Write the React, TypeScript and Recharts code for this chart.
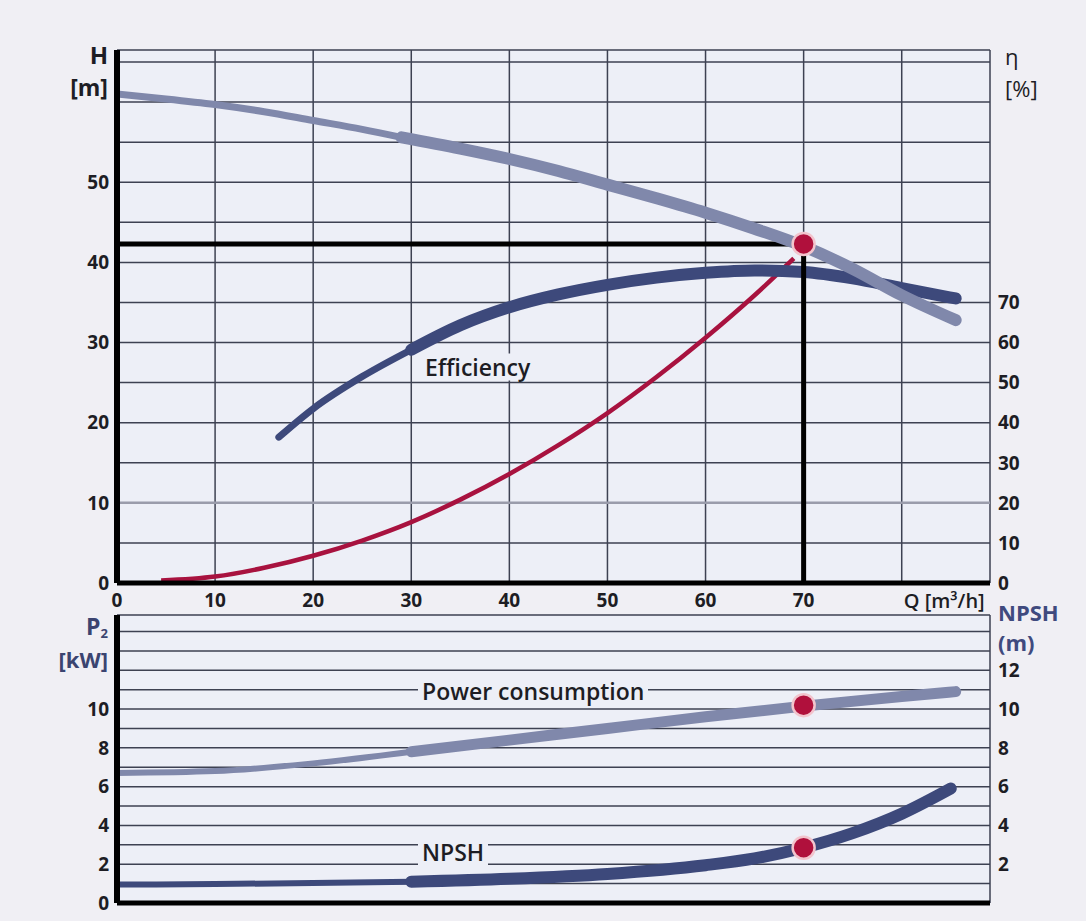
import React from "react"
import { ComposedChart, Line, XAxis, YAxis, CartesianGrid, ReferenceDot, ReferenceLine } from "recharts"

// flow rate Q [m³/h]
const qTicks = [0, 10, 20, 30, 40, 50, 60, 70, 80]

// head H [m]: grid every 5, labels every 10
const headTicks = [0, 5, 10, 15, 20, 25, 30, 35, 40, 45, 50, 55, 60, 65]
const headLabels = [0, 10, 20, 30, 40, 50]
const etaTicks = [0, 10, 20, 30, 40, 50, 60, 70]

// P2 / NPSH: grid every 1
const powerTicks = [0, 1, 2, 3, 4, 5, 6, 7, 8, 9, 10, 11, 12, 13, 14]
const powerLabels = [0, 2, 4, 6, 8, 10]
const npshTicks = [2, 4, 6, 8, 10, 12]

const headThin = [
  { q: 0, h: 61.0 }, { q: 5, h: 60.4 }, { q: 10, h: 59.7 }, { q: 15, h: 58.8 },
  { q: 20, h: 57.7 }, { q: 25, h: 56.6 }, { q: 29, h: 55.6 },
]
const headThick = [
  { q: 29, h: 55.6 }, { q: 35, h: 54.2 }, { q: 40, h: 52.9 }, { q: 45, h: 51.4 },
  { q: 50, h: 49.7 }, { q: 55, h: 48.0 }, { q: 60, h: 46.2 }, { q: 65, h: 44.2 },
  { q: 70, h: 42.0 }, { q: 75, h: 39.2 }, { q: 80, h: 35.9 }, { q: 85.5, h: 32.8 },
]

// efficiency η [%]
const etaThin = [
  { q: 16.5, eta: 36.4 }, { q: 20, eta: 43.5 }, { q: 25, eta: 51.5 }, { q: 30, eta: 58.2 },
]
const etaThick = [
  { q: 30, eta: 58.2 }, { q: 35, eta: 64.3 }, { q: 40, eta: 68.8 }, { q: 45, eta: 72.0 },
  { q: 50, eta: 74.4 }, { q: 55, eta: 76.2 }, { q: 60, eta: 77.4 }, { q: 65, eta: 78.0 },
  { q: 70, eta: 77.6 }, { q: 75, eta: 76.0 }, { q: 80, eta: 73.6 }, { q: 85.5, eta: 71.0 },
]

// system curve
const systemCurve = [
  { q: 4.5, h: 0.3 }, { q: 10, h: 0.8 }, { q: 15, h: 1.9 }, { q: 20, h: 3.4 },
  { q: 25, h: 5.3 }, { q: 30, h: 7.6 }, { q: 35, h: 10.4 }, { q: 40, h: 13.6 },
  { q: 45, h: 17.2 }, { q: 50, h: 21.2 }, { q: 55, h: 25.7 }, { q: 60, h: 30.6 },
  { q: 65, h: 35.9 }, { q: 69, h: 40.5 },
]

// duty point
const dutyQ = 70
const dutyH = 42.3
const dutyLine = [{ q: 0, h: dutyH }, { q: dutyQ, h: dutyH }, { q: dutyQ, h: 0 }]
const dutyP2 = 10.2
const dutyNpsh = 2.85

// power consumption P2 [kW]
const powerThin = [
  { q: 0, p: 6.7 }, { q: 10, p: 6.8 }, { q: 20, p: 7.2 }, { q: 30, p: 7.8 },
]
const powerThick = [
  { q: 30, p: 7.8 }, { q: 40, p: 8.4 }, { q: 50, p: 9.0 }, { q: 60, p: 9.6 },
  { q: 70, p: 10.15 }, { q: 80, p: 10.65 }, { q: 85.5, p: 10.9 },
]

// NPSH [m]
const npshThin = [
  { q: 0, n: 0.95 }, { q: 10, n: 0.98 }, { q: 20, n: 1.03 }, { q: 30, n: 1.1 },
]
const npshThick = [
  { q: 30, n: 1.1 }, { q: 40, n: 1.25 }, { q: 50, n: 1.5 }, { q: 60, n: 1.95 },
  { q: 65, n: 2.3 }, { q: 70, n: 2.85 }, { q: 75, n: 3.6 }, { q: 80, n: 4.6 },
  { q: 85, n: 5.9 },
]

const FONT = "'Open Sans', sans-serif"
const TEXT = "#1d1d24"
const GRID = "#3d4152"
const PLOT_BG = "#edeff7"
const LIGHT = "#8088ab"
const DARK = "#3d497b"
const RED = "#a8123f"

const tickStyle = { fontSize: 19, fontWeight: 700, fill: TEXT, fontFamily: FONT }

function QTick(props: any) {
  const { x, y, payload } = props
  if (payload.value === 80) {
    return (
      <text x={x + 2} y={y} dy="0.71em" textAnchor="start" style={{ ...tickStyle, fontSize: 20, fontWeight: 600 }}>
        Q [m³/h]
      </text>
    )
  }
  return (
    <text x={x} y={y} dy="0.71em" textAnchor="middle" style={tickStyle}>
      {payload.value}
    </text>
  )
}

const dot = { r: 11, fill: "#b0103c", stroke: "#f2c4cd", strokeWidth: 2.5 }

const label = (extra: React.CSSProperties): React.CSSProperties => ({
  position: "absolute",
  transform: "translateY(-50%)",
  fontFamily: FONT,
  lineHeight: 1,
  whiteSpace: "nowrap",
  ...extra,
})

export default function App() {
  return (
    <div style={{ position: "absolute", left: 0, top: 0, width: 1086, height: 921, background: "#f0eff4", overflow: "hidden" }}>
      <div style={{ position: "absolute", left: 0, top: 0 }}>
        <ComposedChart width={1086} height={615} margin={{ top: 50, right: 36, bottom: 2, left: 57 }}>
          <CartesianGrid yAxisId="h" stroke={GRID} strokeWidth={1.5} fill={PLOT_BG} fillOpacity={1} />
          <XAxis
            dataKey="q"
            type="number"
            domain={[0, 89]}
            ticks={qTicks}
            allowDataOverflow
            height={30}
            tick={<QTick />}
            tickLine={false}
            tickMargin={5}
            axisLine={{ stroke: "#000", strokeWidth: 5 }}
          />
          <YAxis
            yAxisId="h"
            type="number"
            domain={[0, 66.5]}
            ticks={headTicks}
            allowDataOverflow
            width={60}
            tickFormatter={(v: number) => (headLabels.includes(v) ? String(v) : "")}
            tick={tickStyle}
            tickLine={false}
            axisLine={{ stroke: "#000", strokeWidth: 6 }}
          />
          <YAxis
            yAxisId="eta"
            orientation="right"
            type="number"
            domain={[0, 133]}
            ticks={etaTicks}
            allowDataOverflow
            width={60}
            tick={tickStyle}
            tickLine={false}
            axisLine={false}
          />
          <ReferenceLine yAxisId="h" y={10} stroke="#9a9cab" strokeWidth={2.5} />
          <Line yAxisId="h" data={systemCurve} dataKey="h" type="monotone" stroke={RED} strokeWidth={4.5} dot={false} isAnimationActive={false} />
          <Line yAxisId="eta" data={etaThin} dataKey="eta" type="monotone" stroke={DARK} strokeWidth={7} strokeLinecap="round" dot={false} isAnimationActive={false} />
          <Line yAxisId="eta" data={etaThick} dataKey="eta" type="monotone" stroke={DARK} strokeWidth={12} strokeLinecap="round" dot={false} isAnimationActive={false} />
          <Line yAxisId="h" data={dutyLine} dataKey="h" type="linear" stroke="#000" strokeWidth={5} dot={false} isAnimationActive={false} />
          <Line yAxisId="h" data={headThin} dataKey="h" type="monotone" stroke={LIGHT} strokeWidth={7} strokeLinecap="round" dot={false} isAnimationActive={false} />
          <Line yAxisId="h" data={headThick} dataKey="h" type="monotone" stroke={LIGHT} strokeWidth={12} strokeLinecap="round" dot={false} isAnimationActive={false} />
          <ReferenceDot yAxisId="h" x={dutyQ} y={dutyH} {...dot} />
        </ComposedChart>
      </div>

      <div style={{ position: "absolute", left: 0, top: 605 }}>
        <ComposedChart width={1086} height={316} margin={{ top: 10, right: 36, bottom: 16, left: 57 }}>
          <CartesianGrid yAxisId="p" stroke={GRID} strokeWidth={1.5} fill={PLOT_BG} fillOpacity={1} />
          <XAxis
            dataKey="q"
            type="number"
            domain={[0, 89]}
            ticks={qTicks}
            allowDataOverflow
            height={2}
            tick={false}
            tickLine={false}
            axisLine={{ stroke: "#000", strokeWidth: 5 }}
          />
          <YAxis
            yAxisId="p"
            type="number"
            domain={[0, 14.85]}
            ticks={powerTicks}
            allowDataOverflow
            width={60}
            tickFormatter={(v: number) => (powerLabels.includes(v) ? String(v) : "")}
            tick={tickStyle}
            tickLine={false}
            axisLine={{ stroke: "#000", strokeWidth: 6 }}
          />
          <YAxis
            yAxisId="n"
            orientation="right"
            type="number"
            domain={[0, 14.85]}
            ticks={npshTicks}
            allowDataOverflow
            width={60}
            tick={tickStyle}
            tickLine={false}
            axisLine={false}
          />
          <Line yAxisId="p" data={powerThin} dataKey="p" type="monotone" stroke={LIGHT} strokeWidth={6} strokeLinecap="round" dot={false} isAnimationActive={false} />
          <Line yAxisId="p" data={powerThick} dataKey="p" type="monotone" stroke={LIGHT} strokeWidth={11} strokeLinecap="round" dot={false} isAnimationActive={false} />
          <Line yAxisId="n" data={npshThin} dataKey="n" type="monotone" stroke={DARK} strokeWidth={6} strokeLinecap="round" dot={false} isAnimationActive={false} />
          <Line yAxisId="n" data={npshThick} dataKey="n" type="monotone" stroke={DARK} strokeWidth={12} strokeLinecap="round" dot={false} isAnimationActive={false} />
          <ReferenceDot yAxisId="p" x={dutyQ} y={dutyP2} {...dot} />
          <ReferenceDot yAxisId="n" x={dutyQ} y={dutyNpsh} {...dot} />
        </ComposedChart>
      </div>

      {/* axis titles */}
      <div style={label({ left: 0, width: 108, textAlign: "right", top: 55, fontSize: 24, fontWeight: 700, color: TEXT })}>H</div>
      <div style={label({ left: 0, width: 108, textAlign: "right", top: 87, fontSize: 23, fontWeight: 700, color: TEXT })}>[m]</div>
      <div style={label({ left: 1005, top: 56, fontSize: 22, color: TEXT })}>η</div>
      <div style={label({ left: 1005, top: 88, fontSize: 22, color: TEXT })}>[%]</div>
      <div style={label({ left: 0, width: 108, textAlign: "right", top: 627, fontSize: 23, fontWeight: 700, color: "#3b4470" })}>
        P<sub style={{ fontSize: 13, verticalAlign: "-3px" }}>2</sub>
      </div>
      <div style={label({ left: 0, width: 108, textAlign: "right", top: 659, fontSize: 22, fontWeight: 700, color: "#3b4470" })}>[kW]</div>
      <div style={label({ left: 998, top: 612, fontSize: 22, fontWeight: 700, color: "#3f4a7e" })}>NPSH</div>
      <div style={label({ left: 998, top: 642, fontSize: 22, fontWeight: 700, color: "#3f4a7e" })}>(m)</div>

      {/* curve labels */}
      <div style={label({ left: 421, top: 367, fontSize: 23, fontWeight: 600, color: TEXT, background: PLOT_BG, padding: "2px 4px" })}>Efficiency</div>
      <div style={label({ left: 418, top: 691, fontSize: 23, fontWeight: 600, color: TEXT, background: PLOT_BG, padding: "2px 4px" })}>Power consumption</div>
      <div style={label({ left: 418, top: 852, fontSize: 23, fontWeight: 600, color: TEXT, background: PLOT_BG, padding: "2px 4px" })}>NPSH</div>
    </div>
  )
}
